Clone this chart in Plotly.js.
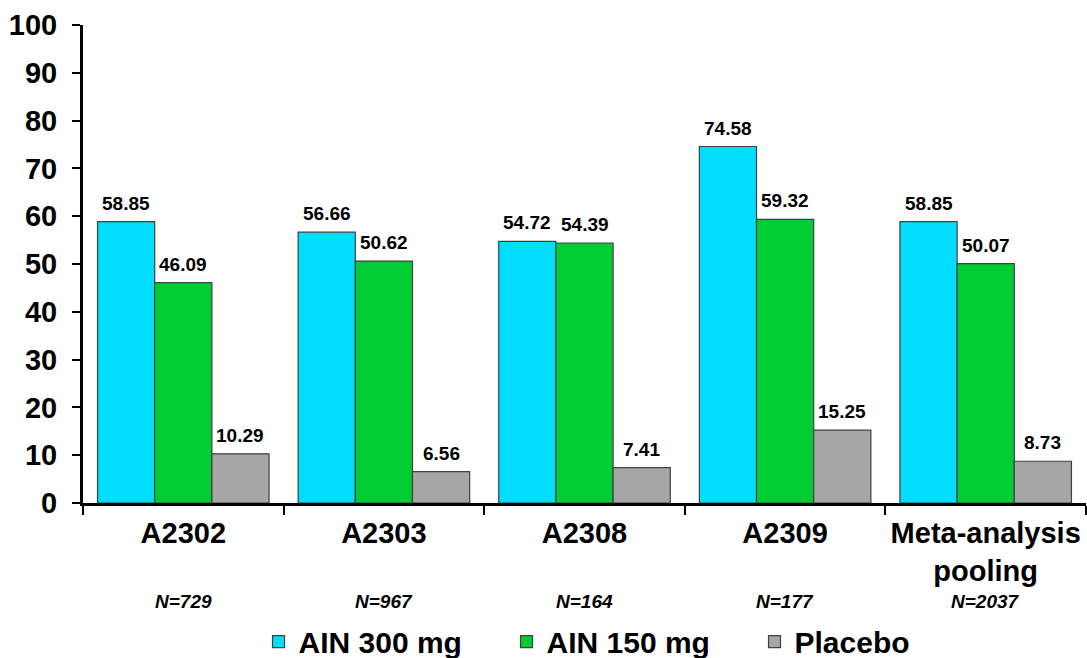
<!DOCTYPE html>
<html>
<head>
<meta charset="utf-8">
<script src="https://cdn.plot.ly/plotly-3.0.1.min.js"></script>
<style>
  html, body { margin: 0; padding: 0; background: #fff; }
  #chart { width: 1087px; height: 658px; }
</style>
</head>
<body>
<div id="chart"></div>
<script>
// Studies and pooled analysis
const studies = ['A2302', 'A2303', 'A2308', 'A2309', 'Meta-analysis<br>pooling'];
const sampleSizes = ['N=729', 'N=967', 'N=164', 'N=177', 'N=2037'];

// Response rates (%) per arm
const ain300 = [58.85, 56.66, 54.72, 74.58, 58.85];
const ain150 = [46.09, 50.62, 54.39, 59.32, 50.07];
const placebo = [10.29, 6.56, 7.41, 15.25, 8.73];

const seriesNames = ['AIN 300 mg', 'AIN 150 mg', 'Placebo'];
const seriesColors = ['#00DDFF', '#00CC33', '#A6A6A6'];
const seriesValues = [ain300, ain150, placebo];

const FONT = 'Arial, "Liberation Sans", sans-serif';
const W = 1087, H = 658;
const margin = { l: 83, r: 1, t: 25, b: 155, autoexpand: false };
const BARGAP = 0.145;

const traces = seriesValues.map((vals, i) => ({
  type: 'bar',
  name: seriesNames[i],
  x: studies,
  y: vals,
  marker: { color: seriesColors[i], line: { color: '#404040', width: 1.2 } },
  hoverinfo: 'skip'
}));

// Value labels above each bar, offset to the bar's slot within its group
const plotW = W - margin.l - margin.r;
const barPx = plotW / studies.length * (1 - BARGAP) / seriesValues.length;
const valueLabels = [];
seriesValues.forEach((vals, i) => {
  vals.forEach((v, j) => {
    valueLabels.push({
      x: studies[j], xref: 'x',
      y: v, yref: 'y',
      xshift: (i - 1) * barPx,
      yanchor: 'bottom',
      yshift: 6,
      text: v.toFixed(2),
      showarrow: false,
      font: { family: FONT, size: 19, weight: 'bold', color: '#000' }
    });
  });
});

const nAnnotations = studies.map((s, i) => ({
  x: s,
  xref: 'x',
  y: -0.207,
  yref: 'paper',
  yanchor: 'middle',
  text: '<i>' + sampleSizes[i] + '</i>',
  showarrow: false,
  font: { family: FONT, size: 19, weight: 'bold', color: '#000' }
}));

const layout = {
  width: W,
  height: H,
  margin: margin,
  paper_bgcolor: '#fff',
  plot_bgcolor: '#fff',
  barmode: 'group',
  bargap: BARGAP,
  bargroupgap: 0,
  showlegend: true,
  legend: {
    orientation: 'h',
    x: 0.175,
    xanchor: 'left',
    y: -0.29,
    yanchor: 'middle',
    font: { family: FONT, size: 30, weight: 'bold', color: '#000' },
    entrywidth: 203,
    itemclick: false,
    itemdoubleclick: false
  },
  xaxis: {
    type: 'category',
    showline: true,
    linecolor: '#000',
    linewidth: 3,
    ticks: 'outside',
    tickson: 'boundaries',
    ticklen: 9,
    tickwidth: 2,
    tickcolor: '#000',
    ticklabelstandoff: 2,
    tickfont: { family: FONT, size: 29, weight: 'bold', color: '#000' },
    showgrid: false,
    zeroline: false,
    fixedrange: true
  },
  yaxis: {
    range: [0, 100],
    dtick: 10,
    showline: true,
    linecolor: '#000',
    linewidth: 3,
    ticks: 'outside',
    ticklen: 8,
    tickwidth: 2,
    tickcolor: '#000',
    ticklabelstandoff: 9,
    tickfont: { family: FONT, size: 29, weight: 'bold', color: '#000' },
    showgrid: false,
    zeroline: false,
    fixedrange: true
  },
  annotations: valueLabels.concat(nAnnotations)
};

Plotly.newPlot('chart', traces, layout, { displayModeBar: false, staticPlot: true });
</script>
</body>
</html>
